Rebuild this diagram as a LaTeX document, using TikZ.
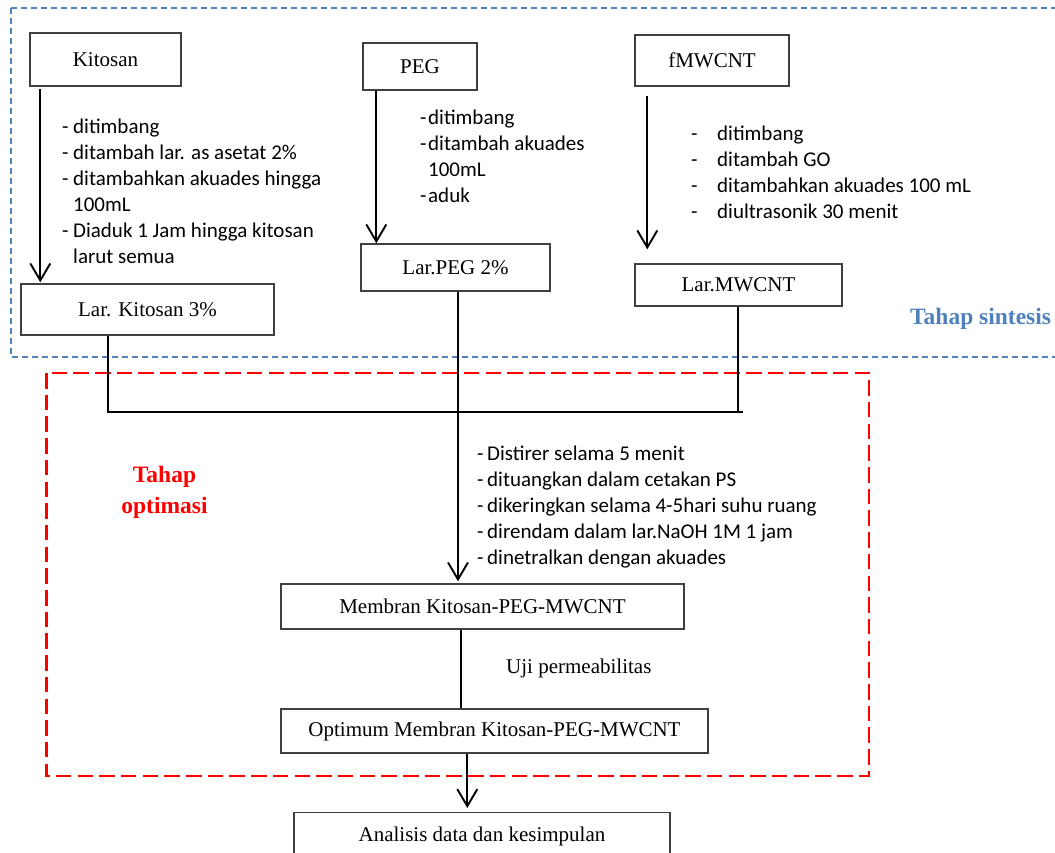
\documentclass[tikz,border=0pt]{standalone}
\usepackage{fontspec}
\setmainfont{Liberation Serif}
\newfontfamily\calfont{Carlito}
\usetikzlibrary{arrows.meta,calc}
\definecolor{sinblue}{RGB}{79,129,189}
\definecolor{optred}{RGB}{255,0,0}
\newcommand{\dd}[2]{\makebox[#1][l]{-}#2}
\begin{document}
\begin{tikzpicture}[x=1pt,y=-1pt,
  box/.style={draw=black!75,line width=1.4pt,inner sep=0pt,font=\fontsize{21}{25}\selectfont},
  ln/.style={line width=1.9pt,black},
  arr/.style={line width=1.9pt,black,-{Straight Barb[length=17pt,width=20pt]}},
  lst/.style={inner sep=0pt,anchor=base west,font=\calfont\fontsize{21}{26}\selectfont},
  stage/.style={inner sep=0pt,font=\bfseries\fontsize{23.5}{31}\selectfont}]
\useasboundingbox (0,0) rectangle (1055,852);
% stage frames
\draw[sinblue,line width=2pt,dash pattern=on 6pt off 4pt] (11,8) rectangle (1075,357);
\draw[optred,line width=2.3pt,dash pattern=on 15.5pt off 6.2pt] (46.5,373) rectangle (869,776);
% boxes
\node[box,minimum width=151pt,minimum height=53pt] (kit) at (105.5,59.5) {Kitosan};
\node[box,minimum width=253pt,minimum height=51pt] (lark) at (147.5,309.5) {Lar. Kitosan 3\%};
\node[box,minimum width=114pt,minimum height=47pt] (peg) at (420,66.5) {PEG};
\node[box,minimum width=189pt,minimum height=47pt] (larpeg) at (455.5,267.5) {Lar.PEG 2\%};
\node[box,minimum width=154pt,minimum height=51pt] (fmw) at (712,60.5) {fMWCNT};
\node[box,minimum width=207pt,minimum height=42pt] (larmw) at (738.5,285) {Lar.MWCNT};
\node[box,minimum width=403pt,minimum height=45pt] (memb) at (482.5,606.5) {Membran Kitosan-PEG-MWCNT};
\node[box,minimum width=427pt,minimum height=44pt] (opt) at (494.5,731) {Optimum Membran Kitosan-PEG-MWCNT};
\node[box,minimum width=376pt,minimum height=48pt,anchor=north] (ana) at (482,812) {Analisis data dan kesimpulan};
% step lists
\node[lst] (kitlist) at (62,133) {\begin{tabular}[t]{@{}l@{}}
\dd{11pt}{ditimbang}\\
\dd{11pt}{ditambah lar. as asetat 2\%}\\
\dd{11pt}{ditambahkan akuades hingga}\\
\makebox[11pt]{}100mL\\
\dd{11pt}{Diaduk 1 Jam hingga kitosan}\\
\makebox[11pt]{}larut semua
\end{tabular}};
\node[lst] (peglist) at (420,124) {\begin{tabular}[t]{@{}l@{}}
\dd{8pt}{ditimbang}\\
\dd{8pt}{ditambah akuades}\\
\makebox[8pt]{}100mL\\
\dd{8pt}{aduk}
\end{tabular}};
\node[lst] (mwlist) at (691,140) {\begin{tabular}[t]{@{}l@{}}
\dd{26pt}{ditimbang}\\
\dd{26pt}{ditambah GO}\\
\dd{26pt}{ditambahkan akuades 100 mL}\\
\dd{26pt}{diultrasonik 30 menit}
\end{tabular}};
\node[lst] (mixlist) at (477,460) {\begin{tabular}[t]{@{}l@{}}
\dd{10pt}{Distirer selama 5 menit}\\
\dd{10pt}{dituangkan dalam cetakan PS}\\
\dd{10pt}{dikeringkan selama 4-5hari suhu ruang}\\
\dd{10pt}{direndam dalam lar.NaOH 1M 1 jam}\\
\dd{10pt}{dinetralkan dengan akuades}
\end{tabular}};
\node[inner sep=0pt,anchor=base west,font=\fontsize{21}{25}\selectfont] (uji) at (506,673) {Uji permeabilitas};
% stage labels
\node[stage,text=sinblue,anchor=base west] (sin) at (910,324) {Tahap sintesis};
\node[stage,text=optred,anchor=base] (optl) at (164.5,482) {\begin{tabular}[t]{@{}c@{}}Tahap\\optimasi\end{tabular}};
% connectors
\draw[arr] ($(kit.south west)+(11,2)$) -- ($(kit.south west |- lark.north)+(11,-1)$);
\draw[arr] ($(peg.south west)+(14,0)$) -- ($(peg.south west |- larpeg.north)+(14,0)$);
\draw[arr] ($(fmw.south west)+(13,9)$) -- ($(fmw.south west |- larmw.north)+(13,-14)$);
\draw[ln] ($(lark.south west)+(88,0)$) -- ++(0,76) -- ($(larmw.south west)+(109,105)$);
\draw[ln] ($(larmw.south west)+(104,0)$) -- ++(0,105);
\draw[arr] ($(larpeg.south)+(2.5,0)$) -- ($(larpeg.south |- memb.north)+(2.5,-2)$);
\draw[ln] ($(memb.south west)+(181,0)$) -- ($(memb.south west |- opt.north)+(181,0)$);
\draw[arr] ($(opt.south west)+(187,0)$) -- ($(opt.south west |- ana.north)+(187,-4)$);
\end{tikzpicture}
\end{document}
